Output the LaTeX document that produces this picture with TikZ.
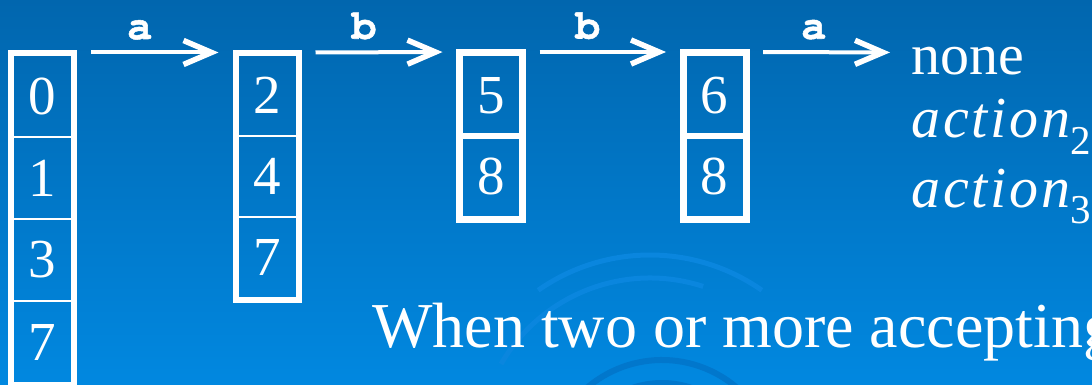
\documentclass[tikz,border=0pt]{standalone}
\usepackage{fontspec}
\usepackage{tikz}
\setmainfont{Liberation Serif}
\newfontfamily\codefont[FakeBold=1.2]{TeX Gyre Cursor}
\newfontfamily\actfont[LetterSpace=5]{Liberation Serif}
\usetikzlibrary{arrows.meta, positioning, fit}
\definecolor{slidetop}{HTML}{0166AE}
\definecolor{slidebottom}{HTML}{0188E0}
\definecolor{swirllight}{HTML}{0A86DE}
\definecolor{swirldark}{HTML}{0177CC}

\newcommand{\subidx}[1]{\raisebox{-17pt}{\fontsize{41}{41}\selectfont\upshape #1}}

\begin{document}
\begin{tikzpicture}[
    x=1pt, y=-1pt,
    cell/.style={rectangle, draw=white, line width=2pt, minimum width=59pt, minimum height=81pt, inner sep=0pt, outer sep=0pt, text=white, font=\fontsize{55}{55}\selectfont},
    frame/.style={rectangle, draw=white, line width=5pt, inner sep=2.5pt, outer sep=0pt},
    heavyframe/.style={frame, line width=6pt, inner sep=3pt},
    divider/.style={draw=white, line width=6pt},
    arrow/.style={-{Straight Barb[length=28pt, width=24pt, line width=5.5pt]}, line width=4pt, white, shorten <=16.5pt, shorten >=16.5pt},
    sym/.style={text=white, inner sep=0pt, anchor=base, font=\codefont\bfseries\fontsize{42}{42}\selectfont},
    answer/.style={text=white, anchor=base west, inner sep=0pt, font=\fontsize{58}{58}\selectfont}
]

% Slide background
\useasboundingbox (0,0) rectangle (1092,385);
\clip (0,0) rectangle (1092,385);
\fill[top color=slidetop, bottom color=slidebottom] (0,0) rectangle (1092,385);
\draw[swirllight, line width=5pt] (650,450) ++(-125:195) arc (-125:-55:195);
\draw[swirllight, line width=5pt] (650,450) ++(-150:172) arc (-150:-72:172);
\draw[swirldark, line width=6pt] (662,475) ++(-155:115) arc (-155:-25:115);
\draw[swirldark, line width=6pt] (662,475) ++(-145:92) arc (-145:-35:92);

% Set 1: start
\node[cell, minimum height=82pt] (c1a) at (42.5,96) {0};
\node[cell, minimum height=82pt, below=0pt of c1a] (c1b) {1};
\node[cell, minimum height=82pt, below=0pt of c1b] (c1c) {3};
\node[cell, minimum height=82pt, below=0pt of c1c] (c1d) {7};
\node[frame, fit=(c1a) (c1d)] (set1) {};

% Set 2: after a
\node[cell] (c2a) at (267,95.5) {2};
\node[cell, below=0pt of c2a] (c2b) {4};
\node[cell, below=0pt of c2b] (c2c) {7};
\node[frame, fit=(c2a) (c2c)] (set2) {};

% Set 3: after b
\node[cell, minimum width=58pt] (c3a) at (491,95.5) {5};
\node[cell, minimum width=58pt, below=0pt of c3a] (c3b) {8};
\node[heavyframe, fit=(c3a) (c3b)] (set3) {};
\draw[divider] (c3a.south west) -- (c3a.south east);

% Set 4: after b
\node[cell, minimum width=58pt] (c4a) at (714.5,95.5) {6};
\node[cell, minimum width=58pt, below=0pt of c4a] (c4b) {8};
\node[heavyframe, fit=(c4a) (c4b)] (set4) {};
\draw[divider] (c4a.south west) -- (c4a.south east);

% Actions
\node[answer] (none) at (911,75) {none};
\node[answer] (act2) at (911,138) {{\actfont\itshape action}\subidx{2}};
\node[answer] (act3) at (911,207) {{\actfont\itshape action}\subidx{3}};
\coordinate (endpt) at (911,52.5);

% Transitions
\draw[arrow] (set1.north east) -- (set2.north west) node[sym, midway, xshift=-15pt, yshift=13.5pt] {a};
\draw[arrow] (set2.north east) -- (set3.north west) node[sym, midway, xshift=-15pt, yshift=13.5pt] {b};
\draw[arrow] (set3.north east) -- (set4.north west) node[sym, midway, xshift=-15pt, yshift=13.5pt] {b};
\draw[arrow, shorten >=21pt] (set4.north east) -- (endpt) node[sym, midway, xshift=-15pt, yshift=13.5pt] {a};

% Note
\node[answer, font=\fontsize{64}{64}\selectfont] (note) at (372,347) {When two or more accepting};

\end{tikzpicture}
\end{document}
